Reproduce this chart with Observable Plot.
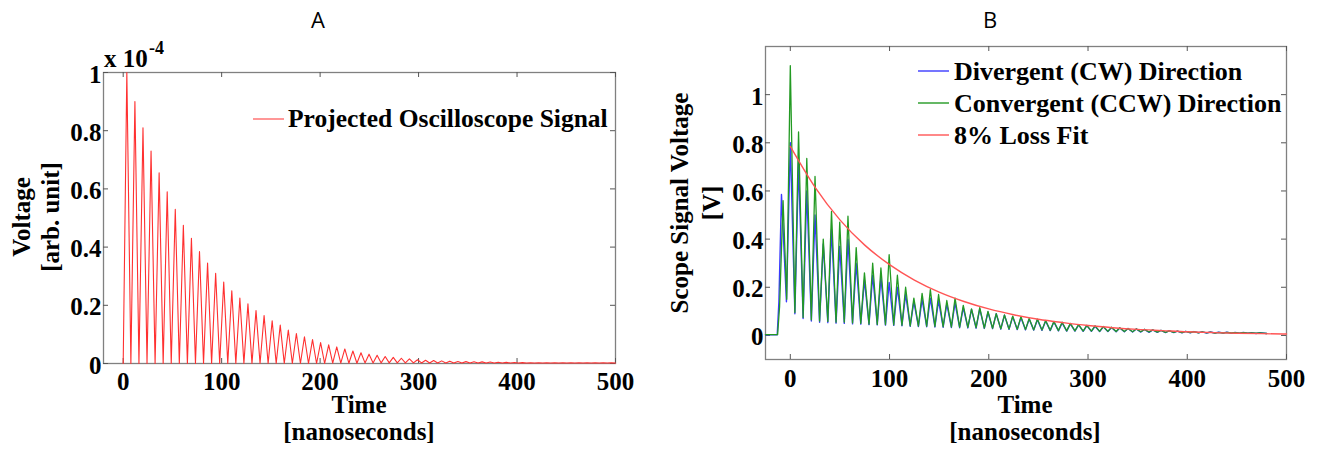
<!DOCTYPE html>
<html><head><meta charset="utf-8">
<script src="https://cdn.jsdelivr.net/npm/d3@7"></script>
<script src="https://cdn.jsdelivr.net/npm/@observablehq/plot@0.6"></script>
<style>
html,body{margin:0;padding:0;background:#fff;}
#wrap{position:relative;width:1321px;height:453px;overflow:hidden;background:#fff;}
#pa{position:absolute;left:0;top:0;}
#pb{position:absolute;left:660px;top:0;}
</style></head><body><div id="wrap"><div id="pa"></div><div id="pb"></div></div>
<script>
// ---------- Panel A : projected oscilloscope signal (values in units of 1e-4) ----------
const aPeakT = [3.7,11.9,20.1,28.3,36.5,44.7,52.9,61.1,69.3,77.5,85.7,93.9,102.1,110.3,118.5,126.7,134.9,143.1,151.3,159.5,167.7,175.9,184.1,192.3,200.5,208.7,216.9,225.1,233.3,241.5,249.7,257.9,266.1,274.3,282.5,290.7,298.9,307.1,315.3,323.5,331.7,339.9,348.1,356.3,364.5,372.7,380.9,389.1,397.3,405.5,413.7,421.9,430.1,438.3,446.5,454.7,462.9,471.1,479.3,487.5,495.7];
const aPeakV = [1.00,0.90,0.81,0.73,0.655,0.59,0.53,0.475,0.43,0.385,0.345,0.31,0.28,0.25,0.225,0.205,0.182,0.165,0.147,0.132,0.115,0.103,0.092,0.082,0.072,0.064,0.057,0.050,0.043,0.037,0.032,0.028,0.024,0.021,0.018,0.016,0.013,0.011,0.010,0.009,0.008,0.007,0.0065,0.006,0.0055,0.005,0.0045,0.004,0.0035,0.003,0.0028,0.0026,0.0024,0.0022,0.002,0.002,0.002,0.002,0.002,0.002,0.002];
const aTroughT = [0,7.8,16.0,24.2,32.4,40.6,48.8,57.0,65.2,73.4,81.6,89.8,98.0,106.2,114.4,122.6,130.8,139.0,147.2,155.4,163.6,171.8,180.0,188.2,196.4,204.6,212.8,221.0,229.2,237.4,245.6,253.8,262.0,270.2,278.4,286.6,294.8,303.0,311.2,319.4,327.6,335.8,344.0,352.2,360.4,368.6,376.8,385.0,393.2,401.4,409.6,417.8,426.0,434.2,442.4,450.6,458.8,467.0,475.2,483.4,491.6,500];
const aTroughV = [0,0,0,0,0,0,0,0,0,0,0,0,0,0,0,0,0,0,0,0,0,0,0,0,0,0,0.001,0.001,0.001,0.001,0.002,0.002,0.002,0.002,0.002,0.002,0.002,0.002,0.002,0.002,0.002,0.002,0.002,0.002,0.002,0.002,0.0015,0.0015,0.0015,0.0015,0.0015,0.0015,0.0015,0.0015,0.0015,0.0015,0.0015,0.0015,0.0015,0.0015,0.0015,0.0015];
const aXTicks = [0,100,200,300,400,500];
const aYTicks = [0,0.2,0.4,0.6,0.8,1];

// ---------- Panel B : measured scope signals ----------
const bPeakT = [0,8.3,16.6,24.9,33.2,41.5,49.8,58.1,66.4,74.7,83.0,91.3,99.6,107.9,116.2,124.5,132.8,141.1,149.4,157.7,166.0,174.3,182.6,190.9,199.2,207.5,215.8,224.1,232.4,240.7,249.0,257.3,265.6,273.9,282.2,290.5,298.8,307.1,315.4,323.7,332.0,340.3,348.6,356.9,365.2,373.5,381.8,390.1,398.4,406.7,415.0,423.3,431.6,439.9,448.2,456.5,464.8,473.1];
const bTroughT = [4.6,12.9,21.2,29.5,37.8,46.1,54.4,62.7,71.0,79.3,87.6,95.9,104.2,112.5,120.8,129.1,137.4,145.7,154.0,162.3,170.6,178.9,187.2,195.5,203.8,212.1,220.4,228.7,237.0,245.3,253.6,261.9,270.2,278.5,286.8,295.1,303.4,311.7,320.0,328.3,336.6,344.9,353.2,361.5,369.8,378.1,386.4,394.7,403.0,411.3,419.6,427.9,436.2,444.5,452.8,461.1,469.4,480];
const greenLeadT = [-25,-12.8,-10.8,-7.3,-3.6];
const greenLeadV = [0.003,0.003,0.12,0.56,0.15];
const greenPeakV = [1.12,0.845,0.735,0.66,0.40,0.515,0.47,0.495,0.365,0.26,0.30,0.28,0.335,0.25,0.20,0.155,0.175,0.19,0.17,0.145,0.155,0.125,0.11,0.115,0.10,0.09,0.085,0.08,0.078,0.07,0.068,0.062,0.058,0.055,0.05,0.045,0.042,0.04,0.037,0.034,0.032,0.029,0.027,0.025,0.023,0.021,0.019,0.018,0.017,0.016,0.015,0.014,0.013,0.013,0.012,0.012,0.011,0.011];
const greenTroughV = [0.095,0.075,0.065,0.06,0.058,0.055,0.055,0.052,0.05,0.047,0.046,0.045,0.044,0.042,0.04,0.039,0.038,0.037,0.036,0.035,0.034,0.033,0.032,0.03,0.029,0.027,0.026,0.025,0.024,0.023,0.022,0.021,0.02,0.019,0.019,0.018,0.018,0.017,0.017,0.016,0.016,0.015,0.015,0.014,0.014,0.013,0.013,0.012,0.012,0.011,0.011,0.01,0.01,0.01,0.009,0.009,0.009,0.008];
const blueLeadT = [-25,-13.2,-11.5,-8.9,-3.9];
const blueLeadV = [0.003,0.003,0.14,0.585,0.14];
const bluePeakV = [0.80,0.715,0.60,0.50,0.38,0.44,0.37,0.40,0.30,0.23,0.25,0.24,0.22,0.20,0.17,0.14,0.15,0.155,0.145,0.13,0.135,0.115,0.108,0.11,0.097,0.09,0.084,0.078,0.074,0.068,0.065,0.06,0.056,0.052,0.048,0.044,0.041,0.038,0.036,0.033,0.031,0.029,0.027,0.025,0.023,0.021,0.02,0.018,0.017,0.016,0.015,0.014,0.013,0.013,0.012,0.012,0.011,0.011];
const blueTroughV = [0.09,0.07,0.06,0.055,0.053,0.051,0.05,0.048,0.047,0.045,0.044,0.043,0.042,0.04,0.038,0.037,0.036,0.035,0.034,0.033,0.032,0.031,0.03,0.029,0.028,0.026,0.025,0.024,0.023,0.022,0.021,0.02,0.019,0.018,0.018,0.017,0.017,0.016,0.016,0.015,0.015,0.014,0.014,0.013,0.013,0.012,0.012,0.011,0.011,0.011,0.01,0.01,0.01,0.009,0.009,0.009,0.008,0.008];
const fitT = [0,25,50,75,100,125,150,175,200,225,250,275,300,325,350,375,400,425,450,475,500];
const fitV = [0.785,0.615,0.48,0.375,0.294,0.23,0.18,0.141,0.11,0.086,0.067,0.053,0.041,0.032,0.025,0.02,0.015,0.012,0.0093,0.0073,0.0057];
const bXTicks = [0,100,200,300,400,500];
const bYTicks = [0,0.2,0.4,0.6,0.8,1];

// ---------- build rows ----------
const aRows = [];
for (let i = 0; i < aTroughT.length; i++) {
  aRows.push({t: aTroughT[i], v: aTroughV[i]});
  if (i < aPeakT.length) aRows.push({t: aPeakT[i], v: aPeakV[i]});
}
function buildB(leadT, leadV, peakV, troughV, name) {
  const rows = leadT.map((t, i) => ({t, v: leadV[i], s: name}));
  for (let i = 0; i < bPeakT.length; i++) {
    rows.push({t: bPeakT[i], v: peakV[i], s: name});
    rows.push({t: bTroughT[i], v: troughV[i], s: name});
  }
  return rows;
}
const blueRows = buildB(blueLeadT, blueLeadV, bluePeakV, blueTroughV, "blue");
const greenRows = buildB(greenLeadT, greenLeadV, greenPeakV, greenTroughV, "green");
const fitRows = fitT.map((t, i) => ({t, v: fitV[i]}));

const serif = "'Liberation Serif','Times New Roman',serif";
const fmt = d => String(+d.toFixed(1));
const RED = "#ff3030", BLUE = "#3a3aff", GREEN = "#239a23", FIT = "#ff5555";

function axesMarks(xt, yt, fw, fh, padX) {
  return [
    Plot.frame({stroke: "#808080", strokeWidth: 1.3}),
    Plot.tickX(xt, {x: d => d, insetTop: fh - 5, stroke: "#555"}),
    Plot.tickX(xt, {x: d => d, insetBottom: fh - 5, stroke: "#555"}),
    Plot.tickY(yt, {y: d => d, insetRight: fw - 5, stroke: "#555"}),
    Plot.tickY(yt, {y: d => d, insetLeft: fw - 5, stroke: "#555"}),
    Plot.axisX(xt, {tickSize: 0, tickPadding: padX, tickFormat: fmt, label: null}),
    Plot.axisY(yt, {tickSize: 0, tickPadding: 2, tickFormat: fmt, dy: 2, label: null})
  ];
}
const baseStyle = {fontFamily: serif, fontSize: "25px", fontWeight: "bold", color: "#000", background: "transparent", overflow: "visible"};

const plotA = Plot.plot({
  width: 660, height: 453, marginLeft: 103, marginRight: 45, marginTop: 72, marginBottom: 90,
  style: baseStyle,
  x: {domain: [-20, 500], label: null},
  y: {domain: [0, 1], label: null},
  marks: [
    ...axesMarks(aXTicks, aYTicks, 512, 291, 9),
    Plot.line(aRows, {x: "t", y: "v", stroke: RED, strokeWidth: 1.1})
  ]
});
const plotB = Plot.plot({
  width: 661, height: 453, marginLeft: 105, marginRight: 35, marginTop: 46, marginBottom: 94,
  style: baseStyle,
  x: {domain: [-25, 500], label: null},
  y: {domain: [-0.1, 1.2], label: null},
  marks: [
    ...axesMarks(bXTicks, bYTicks, 521, 313, 10),
    Plot.line(blueRows, {x: "t", y: "v", stroke: BLUE, strokeWidth: 1.4}),
    Plot.line(greenRows, {x: "t", y: "v", stroke: GREEN, strokeWidth: 1.3}),
    Plot.line(fitRows, {x: "t", y: "v", stroke: FIT, strokeWidth: 1.4, curve: "monotone-x"})
  ]
});
document.getElementById("pa").appendChild(plotA);
document.getElementById("pb").appendChild(plotB);

function txt(svg, x, y, s, o = {}) {
  const t = svg.append("text").attr("x", x).attr("y", y).text(s)
    .attr("text-anchor", o.anchor || "middle")
    .style("font-family", o.family || serif)
    .style("font-size", (o.size || 25) + "px")
    .style("font-weight", o.weight || "bold")
    .attr("fill", "#000");
  if (o.rotate) t.attr("x", null).attr("y", null).attr("transform", `translate(${x},${y}) rotate(-90)`);
  return t;
}
function swatch(svg, x1, x2, y, color) {
  svg.append("line").attr("x1", x1).attr("x2", x2).attr("y1", y).attr("y2", y)
    .attr("stroke", color).attr("stroke-width", 1.4);
}
const sA = d3.select(plotA), sB = d3.select(plotB);
const sans = "'Open Sans','Liberation Sans',sans-serif";
// Panel A texts
txt(sA, 318, 28, "A", {family: sans, size: 22, weight: "normal"});
txt(sA, 104, 67, "x 10", {anchor: "start"});
txt(sA, 149, 54, "-4", {anchor: "start", size: 18});
txt(sA, 30, 217, "Voltage", {rotate: true});
txt(sA, 59, 217, "[arb. unit]", {rotate: true});
txt(sA, 359, 413, "Time");
txt(sA, 359, 440, "[nanoseconds]");
swatch(sA, 253, 284, 119, "#ff6b6b");
txt(sA, 288, 127, "Projected Oscilloscope Signal", {anchor: "start", size: 25.5});
// Panel B texts
txt(sB, 330, 28, "B", {family: sans, size: 22, weight: "normal"});
txt(sB, 28, 203, "Scope Signal Voltage", {rotate: true});
txt(sB, 60, 203, "[V]", {rotate: true});
txt(sB, 365, 413, "Time");
txt(sB, 365, 440, "[nanoseconds]");
swatch(sB, 258, 289, 71, BLUE);
swatch(sB, 258, 289, 103, GREEN);
swatch(sB, 258, 289, 135, FIT);
txt(sB, 294, 80, "Divergent (CW) Direction", {anchor: "start", size: 26});
txt(sB, 294, 112, "Convergent (CCW) Direction", {anchor: "start", size: 26});
txt(sB, 294, 144, "8% Loss Fit", {anchor: "start", size: 26});
</script>
</body></html>
